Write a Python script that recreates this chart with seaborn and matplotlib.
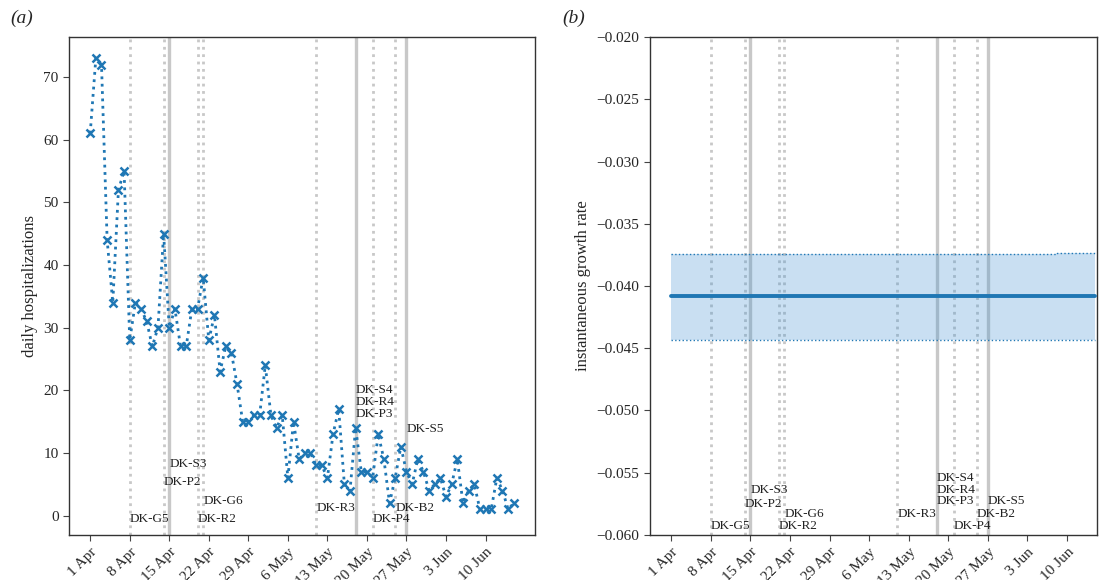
import pandas as pd
import seaborn as sns
import matplotlib.pyplot as plt

# daily hospitalizations, 1 Apr .. 15 Jun 2020
start_date = '2020-04-01'
hospitalizations = [61, 73, 72, 44, 34, 52, 55, 28, 34, 33, 31, 27, 30, 45, 30, 33, 27,
                    27, 33, 33, 38, 28, 32, 23, 27, 26, 21, 15, 15, 16, 16, 24, 16, 14, 16,
                    6, 15, 9, 10, 10, 8, 8, 6, 13, 17, 5, 4, 14, 7, 7, 6, 13,
                    9, 2, 6, 11, 7, 5, 9, 7, 4, 5, 6, 3, 5, 9, 2, 4, 5, 1, 1, 1, 6, 4, 1, 2]

# instantaneous growth rate (flat estimate with band)
rate_dates = ['2020-04-01', '2020-06-08', '2020-06-15']
rate_mid = [-0.0408, -0.0408, -0.0408]
rate_lo = [-0.0443, -0.0443, -0.0443]
rate_hi = [-0.0374, -0.03735, -0.03735]

# interventions
event_names = ['DK-G5', 'DK-P2', 'DK-S3', 'DK-R2', 'DK-G6', 'DK-R3',
               'DK-S4', 'DK-R4', 'DK-P3', 'DK-P4', 'DK-B2', 'DK-S5']
event_dates = ['2020-04-08', '2020-04-14', '2020-04-15', '2020-04-20', '2020-04-21', '2020-05-11',
               '2020-05-18', '2020-05-18', '2020-05-18', '2020-05-21', '2020-05-25', '2020-05-27']
event_solid = [False, False, True, False, False, False,
               True, False, False, False, False, True]
label_y_a = [-0.5, 5.4, 8.2, -0.5, 2.4, 1.2, 20.1, 18.2, 16.2, -0.5, 1.2, 13.9]
label_y_b = [-0.0593, -0.0575, -0.0564, -0.0593, -0.0583, -0.0583,
             -0.0554, -0.0564, -0.0573, -0.0593, -0.0583, -0.0573]

tick_dates = ['2020-04-01', '2020-04-08', '2020-04-15', '2020-04-22', '2020-04-29', '2020-05-06',
              '2020-05-13', '2020-05-20', '2020-05-27', '2020-06-03', '2020-06-10']
tick_labels = ['1 Apr', '8 Apr', '15 Apr', '22 Apr', '29 Apr', '6 May',
               '13 May', '20 May', '27 May', '3 Jun', '10 Jun']

sns.set_style('ticks')
plt.rcParams['font.family'] = ['Liberation Serif', 'DejaVu Serif']
plt.rcParams['axes.unicode_minus'] = True

days = pd.date_range(start_date, periods=len(hospitalizations), freq='D')
df = pd.DataFrame({'date': days, 'hosp': hospitalizations})
ev = pd.to_datetime(event_dates)
ticks = pd.to_datetime(tick_dates)
rd = pd.to_datetime(rate_dates)

fig = plt.figure(figsize=(11.06, 5.8), dpi=100)
ax1 = fig.add_axes([0.0624, 0.0776, 0.4213, 0.8586])
ax2 = fig.add_axes([0.5877, 0.0776, 0.4042, 0.8586])

c0 = '#1f77b4'
vgrey = '#c8c8c8'

# vertical event lines
for ax in (ax1, ax2):
    for d, solid in zip(ev, event_solid):
        if solid:
            ax.axvline(d, color=vgrey, lw=2.4, ls='-', zorder=1)
        else:
            ax.axvline(d, color=vgrey, lw=2, ls=':', zorder=1)

# (a) hospitalizations
sns.lineplot(data=df, x='date', y='hosp', ax=ax1, color=c0, linestyle=':', lw=2,
             marker='x', markersize=6, markeredgewidth=1.8, markeredgecolor=c0, zorder=3)
x0 = days[0] - pd.Timedelta(days=3.75)
x1 = days[-1] + pd.Timedelta(days=3.75)
ax1.set_xlim(x0, x1)
ax1.set_ylim(-3.1, 76.4)
ax1.set_yticks(range(0, 80, 10))
ax1.set_ylabel('daily hospitalizations', fontsize=12)
ax1.set_xlabel('')
for name, d, y in zip(event_names, ev, label_y_a):
    ax1.text(d, y, name, ha='left', va='center', fontsize=9.5, color='#222222')

# (b) growth rate
ax2.fill_between(rd, rate_lo, rate_hi, step='post', color='#3d8fd1', alpha=0.28, lw=0, zorder=2)
ax2.step(rd, rate_hi, where='post', color=c0, ls=':', lw=1, zorder=2)
ax2.step(rd, rate_lo, where='post', color=c0, ls=':', lw=1, zorder=2)
sns.lineplot(x=rd, y=rate_mid, ax=ax2, color=c0, lw=2.8, drawstyle='steps-post', zorder=3)
ax2.set_xlim(x0, days[-1] + pd.Timedelta(days=0.3))
ax2.set_ylim(-0.06, -0.02)
ax2.set_yticks([-0.06 + 0.005 * i for i in range(9)])
ax2.yaxis.set_major_formatter(plt.FuncFormatter(lambda v, p: f'{v:.3f}'.replace('-', '\u2212')))
ax2.set_ylabel('instantaneous growth rate', fontsize=12)
for name, d, y in zip(event_names, ev, label_y_b):
    ax2.text(d, y, name, ha='left', va='center', fontsize=9.5, color='#222222')

for ax in (ax1, ax2):
    ax.set_xticks(ticks)
    ax.set_xticklabels(tick_labels, rotation=45, ha='right', rotation_mode='anchor')
    ax.tick_params(labelsize=11, length=4, color='#444444')
    for s in ax.spines.values():
        s.set_color('#333333')
        s.set_linewidth(1)

fig.text(0.009, 0.968, '(a)', fontsize=14, style='italic', va='center')
fig.text(0.508, 0.968, '(b)', fontsize=14, style='italic', va='center')

plt.savefig('out.png', dpi=100)
